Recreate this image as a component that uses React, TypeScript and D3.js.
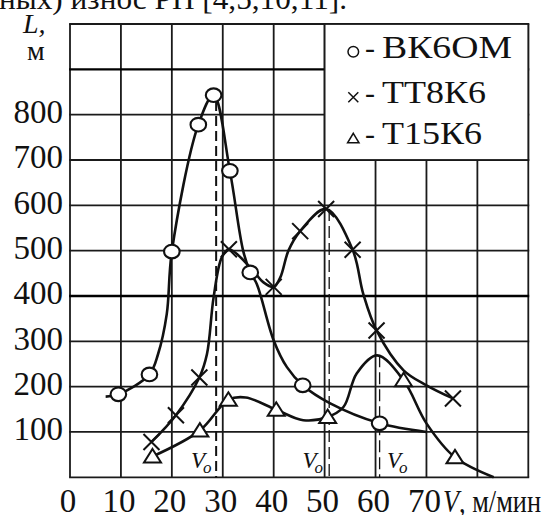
import { curveCatmullRom, line, scaleLinear, select } from "d3";
import React, { useEffect, useRef } from "react";

// ВК6ОМ (circles)
const bkMarks = [
    [9.5, 183], [15.6, 227], [20, 498], [25.2, 778], [28.2, 843],
    [31.4, 676], [35.4, 452], [45.7, 203], [60.8, 119],
];
const bkCurve = [
    [7, 178], [9.5, 183], [15.6, 227], [17.3, 272], [19, 360], [20, 498],
    [25.2, 778], [28.2, 843], [31.4, 676], [34, 500], [35.4, 452],
    [36.7, 426], [40, 302], [42.6, 243], [45.7, 203], [51.1, 163],
    [60.8, 119], [70, 100],
];

// ТТ8К6 (crosses)
const ttMarks = [
    [16, 78], [20.8, 137], [25.4, 220], [31.2, 503], [40, 420],
    [45.2, 543], [50.3, 592], [55.5, 502], [60.2, 324], [75.2, 174],
];
const ttCurve = [
    [16, 78], [20.8, 137], [25.4, 220], [26.9, 272], [28.2, 397],
    [29.8, 485], [31.2, 503], [35.5, 462], [38, 430], [40, 420],
    [41.3, 441], [42.9, 500], [45.2, 543], [50.3, 592], [55.5, 502],
    [57.6, 404], [60.2, 324], [65.5, 236], [70, 203], [75.2, 174],
];

// Т15К6 (triangles)
const tkMarks = [
    [16.2, 46], [25.5, 103], [31.1, 171], [40.5, 149], [50.6, 133],
    [65.5, 214], [75.6, 44],
];
const tkCurve = [
    [16.2, 46], [25.5, 103], [31.1, 171], [34.5, 176], [40.5, 149],
    [45.8, 126], [50.6, 133], [53.7, 155], [56.3, 229], [60.3, 269],
    [65.5, 214], [70, 119], [75.6, 44], [83.2, 0],
];

// V0 dashed lines: [V, top L]
const voLines = [
    [28.7, 830], [50.9, 592], [60.8, 269],
];

const gridV = [0, 10, 20, 30, 40, 50, 60, 70, 80, 90];
const gridL = [0, 100, 200, 300, 400, 500, 600, 700, 800, 900, 1000];
const vTicks = [0, 10, 20, 30, 40, 50, 60, 70];
const lTicks = [100, 200, 300, 400, 500, 600, 700, 800];
const legendNames = ["ВК6ОМ", "ТТ8К6", "Т15К6"];

const App: React.FC = () => {
    const svgRef = useRef<SVGSVGElement>(null);

    useEffect(() => {
        const svg = select(svgRef.current);
        svg.selectAll("*").remove();

        const x = scaleLinear().domain([0, 90]).range([70, 528.3]);
        const y = scaleLinear().domain([0, 1000]).range([477.3, 24]);
        const ink = "#111";
        const font = "'Liberation Serif', 'Times New Roman', serif";

        // grid
        svg.append("g")
            .selectAll("line")
            .data(gridV)
            .enter()
            .append("line")
            .attr("x1", d => x(d))
            .attr("x2", d => x(d))
            .attr("y1", y(0))
            .attr("y2", y(1000))
            .attr("stroke", "#1a1a1a")
            .attr("stroke-width", 1.8);
        svg.append("g")
            .selectAll("line")
            .data(gridL)
            .enter()
            .append("line")
            .attr("x1", x(0) - 0.9)
            .attr("x2", x(90) + 0.9)
            .attr("y1", d => y(d))
            .attr("y2", d => y(d))
            .attr("stroke", d => (d === 400 || d === 900 ? "#000" : "#1a1a1a"))
            .attr("stroke-width", d => (d === 400 || d === 900 ? 2.3 : 1.8));

        // legend box
        svg.append("rect")
            .attr("x", x(50))
            .attr("y", y(1000))
            .attr("width", x(90) - x(50))
            .attr("height", y(700) - y(1000))
            .attr("fill", "#fff")
            .attr("stroke", "#1a1a1a")
            .attr("stroke-width", 1.8);

        // V0 dashed lines
        svg.append("g")
            .selectAll("line")
            .data(voLines)
            .enter()
            .append("line")
            .attr("x1", d => x(d[0]))
            .attr("x2", d => x(d[0]))
            .attr("y1", d => y(d[1]))
            .attr("y2", y(0))
            .attr("stroke", ink)
            .attr("stroke-width", (d, i) => (i === 0 ? 2 : 1.3))
            .attr("stroke-dasharray", (d, i) => (i === 0 ? "10,5" : "12,5"));

        // V0 labels
        const voLabelX = [211.5, 323, 387];
        const voAnchor = ["end", "end", "start"];
        voLabelX.forEach((lx, i) => {
            const t = svg.append("text")
                .attr("x", lx)
                .attr("y", 468)
                .attr("font-family", font)
                .attr("font-style", "italic")
                .attr("font-size", 23)
                .attr("text-anchor", voAnchor[i])
                .attr("fill", ink);
            t.append("tspan").text("V");
            t.append("tspan").attr("dy", 5).attr("dx", -2).attr("font-size", 17).text("o");
        });

        // curves
        const curveLine = line<number[]>()
            .x(d => x(d[0]))
            .y(d => y(d[1]))
            .curve(curveCatmullRom.alpha(0.5));
        [bkCurve, ttCurve, tkCurve].forEach(c => {
            svg.append("path")
                .datum(c)
                .attr("fill", "none")
                .attr("stroke", ink)
                .attr("stroke-width", 2.6)
                .attr("stroke-linejoin", "round")
                .attr("d", curveLine as any);
        });

        // markers
        svg.append("g")
            .selectAll("path")
            .data(ttMarks)
            .enter()
            .append("path")
            .attr("d", d => {
                const cx = x(d[0]), cy = y(d[1]), s = 8;
                return `M${cx - s},${cy - s}L${cx + s},${cy + s}M${cx - s},${cy + s}L${cx + s},${cy - s}`;
            })
            .attr("stroke", ink)
            .attr("stroke-width", 2);
        svg.append("g")
            .selectAll("path")
            .data(tkMarks)
            .enter()
            .append("path")
            .attr("d", d => {
                const cx = x(d[0]), cy = y(d[1]);
                return `M${cx},${cy - 7.5}L${cx + 8.5},${cy + 6}L${cx - 8.5},${cy + 6}Z`;
            })
            .attr("fill", "#fff")
            .attr("stroke", ink)
            .attr("stroke-width", 2);
        svg.append("g")
            .selectAll("ellipse")
            .data(bkMarks)
            .enter()
            .append("ellipse")
            .attr("cx", d => x(d[0]))
            .attr("cy", d => y(d[1]))
            .attr("rx", 7.8)
            .attr("ry", 6.8)
            .attr("fill", "#fff")
            .attr("stroke", ink)
            .attr("stroke-width", 2.1);

        // legend entries
        const legY = [51.7, 97.3, 138.3];
        const legW = [130, 104, 100];
        svg.append("circle")
            .attr("cx", 353.3).attr("cy", legY[0]).attr("r", 5.3)
            .attr("fill", "none").attr("stroke", ink).attr("stroke-width", 1.5);
        svg.append("path")
            .attr("d", `M348.3,${legY[1] - 5}L358.3,${legY[1] + 5}M348.3,${legY[1] + 5}L358.3,${legY[1] - 5}`)
            .attr("stroke", ink).attr("stroke-width", 1.5);
        svg.append("path")
            .attr("d", `M353.3,${legY[2] - 5}L359,${legY[2] + 4.5}L347.6,${legY[2] + 4.5}Z`)
            .attr("fill", "none").attr("stroke", ink).attr("stroke-width", 1.5);
        legendNames.forEach((name, i) => {
            svg.append("text")
                .attr("x", 370)
                .attr("y", legY[i] + 6)
                .attr("text-anchor", "middle")
                .attr("font-family", font)
                .attr("font-size", 30)
                .attr("fill", ink)
                .text("-");
            svg.append("text")
                .attr("x", 382)
                .attr("y", legY[i] + 5.8)
                .attr("font-family", font)
                .attr("font-size", 31)
                .attr("textLength", legW[i])
                .attr("lengthAdjust", "spacingAndGlyphs")
                .attr("fill", ink)
                .text(name);
        });

        // y tick labels
        svg.append("g")
            .selectAll("text")
            .data(lTicks)
            .enter()
            .append("text")
            .attr("x", 63)
            .attr("y", d => y(d) + 8.5)
            .attr("text-anchor", "end")
            .attr("font-family", font)
            .attr("font-size", 33)
            .attr("fill", ink)
            .text(d => String(d));

        // x tick labels
        svg.append("g")
            .selectAll("text")
            .data(vTicks)
            .enter()
            .append("text")
            .attr("x", d => x(d) - 2)
            .attr("y", 512)
            .attr("text-anchor", "middle")
            .attr("font-family", font)
            .attr("font-size", 33)
            .attr("fill", ink)
            .text(d => String(d));

        // axis titles
        const vt = svg.append("text")
            .attr("x", 443)
            .attr("y", 512)
            .attr("font-family", font)
            .attr("font-size", 31)
            .attr("textLength", 98)
            .attr("lengthAdjust", "spacingAndGlyphs")
            .attr("fill", ink);
        vt.append("tspan").attr("font-style", "italic").text("V");
        vt.append("tspan").text(", м/мин");

        svg.append("text")
            .attr("x", 23)
            .attr("y", 33)
            .attr("font-family", font)
            .attr("font-size", 28)
            .attr("font-style", "italic")
            .attr("fill", ink)
            .text("L,");
        svg.append("text")
            .attr("x", 27)
            .attr("y", 60)
            .attr("font-family", font)
            .attr("font-size", 28)
            .attr("fill", ink)
            .text("м");

        // clipped line of the surrounding text
        svg.append("text")
            .attr("x", -1)
            .attr("y", 9)
            .attr("font-family", font)
            .attr("font-size", 30)
            .attr("textLength", 348)
            .attr("lengthAdjust", "spacingAndGlyphs")
            .attr("fill", ink)
            .text("ных) износ РП [4,5,10,11].");
    }, []);

    return (
        <svg
            ref={svgRef}
            width={543}
            height={515}
            style={{ position: "absolute", left: 0, top: 0, background: "#fff" }}
        ></svg>
    );
};

export default App;
